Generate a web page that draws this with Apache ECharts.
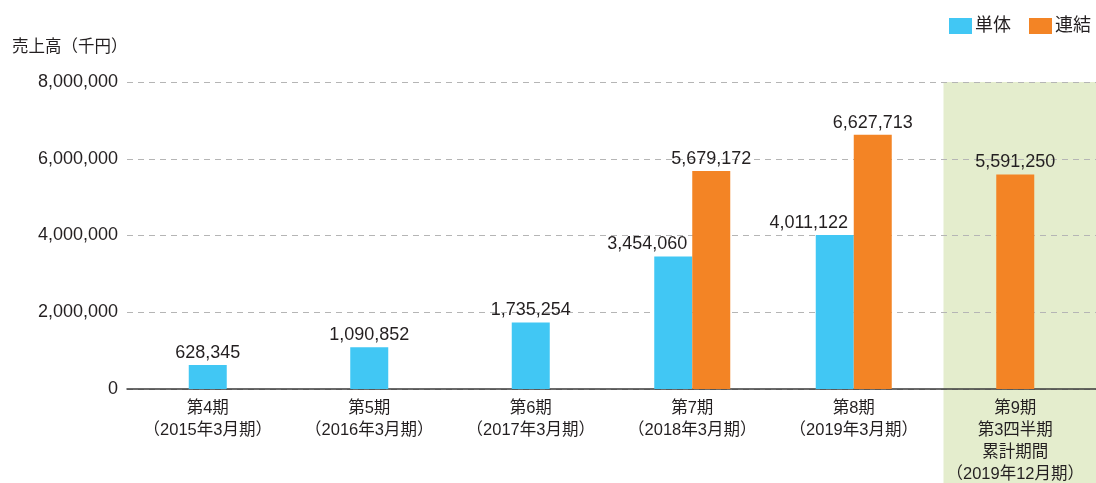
<!DOCTYPE html>
<html>
<head>
<meta charset="utf-8">
<script src="https://cdn.jsdelivr.net/npm/echarts@6/dist/echarts.min.js"></script>
<style>
  html, body { margin: 0; padding: 0; background: #fff; }
  #chart { width: 1096px; height: 483px; }
</style>
</head>
<body>
<div id="chart"></div>
<script>
var categories = [
    "第4期\n（2015年3月期）",
    "第5期\n（2016年3月期）",
    "第6期\n（2017年3月期）",
    "第7期\n（2018年3月期）",
    "第8期\n（2019年3月期）",
    "第9期\n第3四半期\n累計期間\n（2019年12月期）"
];
var tanTai = [628345, 1090852, 1735254, 3454060, 4011122, null];     // 単体
var renKetsu = [null, null, null, 5679172, 6627713, 5591250];         // 連結
var yTicks = [0, 2000000, 4000000, 6000000, 8000000];

var BLUE = "#41c7f4";
var ORANGE = "#f38425";
var FONT = "Liberation Sans, Noto Sans CJK JP, sans-serif";

function fmt(v) {
    return Number(v).toLocaleString("en-US");
}

// categories with both values are drawn as pairs, others as a single centred bar
var pairTan = [], pairRen = [], single = [];
for (var i = 0; i < categories.length; i++) {
    var both = tanTai[i] != null && renKetsu[i] != null;
    pairTan.push(both ? tanTai[i] : null);
    pairRen.push(both ? renKetsu[i] : null);
    if (both) {
        single.push(null);
    } else if (tanTai[i] != null) {
        single.push({value: tanTai[i], itemStyle: {color: BLUE}});
    } else {
        single.push({value: renKetsu[i], itemStyle: {color: ORANGE}});
    }
}

var labelStyle = {
    show: true,
    position: "top",
    distance: 3,
    color: "#231f20",
    fontSize: 18,
    fontFamily: FONT,
    formatter: function (p) { return fmt(p.value); }
};

var option = {
    animation: false,
    textStyle: {fontFamily: FONT},
    legend: {
        right: 0,
        top: 12,
        itemWidth: 23,
        itemHeight: 16,
        itemGap: 18,
        icon: "rect",
        textStyle: {fontSize: 18, color: "#231f20", fontFamily: FONT, padding: [0, 0, 0, -2]},
        data: ["単体", "連結"]
    },
    grid: {left: 127, right: 0, top: 82, bottom: 94, outerBoundsMode: "none"},
    xAxis: [{
        type: "category",
        data: categories,
        axisTick: {show: false},
        axisLine: {lineStyle: {color: "#3a3a3a", width: 1.5}},
        axisLabel: {
            interval: 0,
            margin: 8,
            fontSize: 16.5,
            lineHeight: 22,
            color: "#231f20",
            fontFamily: FONT,
            verticalAlign: "top"
        }
    }, {
        type: "category",
        data: categories,
        show: false
    }],
    yAxis: {
        type: "value",
        name: "売上高（千円）",
        nameLocation: "end",
        nameGap: 26,
        nameTextStyle: {fontSize: 16.5, color: "#231f20", align: "left", padding: [0, 0, 0, -115]},
        min: yTicks[0],
        max: yTicks[yTicks.length - 1],
        interval: yTicks[1] - yTicks[0],
        axisLine: {show: false},
        axisTick: {show: false},
        axisLabel: {
            fontSize: 18,
            color: "#231f20",
            margin: 9,
            fontFamily: FONT,
            formatter: function (v) { return fmt(v); }
        },
        splitLine: {lineStyle: {color: "#b5b5b5", type: [6, 5], width: 1}}
    },
    series: [{
        name: "単体",
        type: "bar",
        xAxisIndex: 0,
        barWidth: 38,
        barGap: 0,
        itemStyle: {color: BLUE},
        label: Object.assign({}, labelStyle, {offset: [-26, 0]}),
        data: pairTan,
        z: 3
    }, {
        name: "連結",
        type: "bar",
        xAxisIndex: 0,
        barWidth: 38,
        barGap: 0,
        itemStyle: {color: ORANGE},
        label: labelStyle,
        data: pairRen,
        z: 3
    }, {
        name: "single",
        type: "bar",
        xAxisIndex: 1,
        barWidth: 38,
        label: labelStyle,
        data: single,
        z: 3
    }]
};

var chart = echarts.init(document.getElementById("chart"));
chart.setOption(option);

// green highlight behind the last category, reaching down through its label
var n = categories.length;
var xLast = chart.convertToPixel({xAxisIndex: 0}, n - 1);
var xPrev = chart.convertToPixel({xAxisIndex: 0}, n - 2);
var half = (xLast - xPrev) / 2;
var yTop = chart.convertToPixel({yAxisIndex: 0}, yTicks[yTicks.length - 1]);
chart.setOption({
    graphic: [{
        type: "rect",
        z: -10,
        silent: true,
        shape: {
            x: xLast - half + 9,
            y: yTop,
            width: chart.getWidth() - (xLast - half + 9),
            height: chart.getHeight() - yTop
        },
        style: {fill: "#e4edcd"}
    }]
});
</script>
</body>
</html>
